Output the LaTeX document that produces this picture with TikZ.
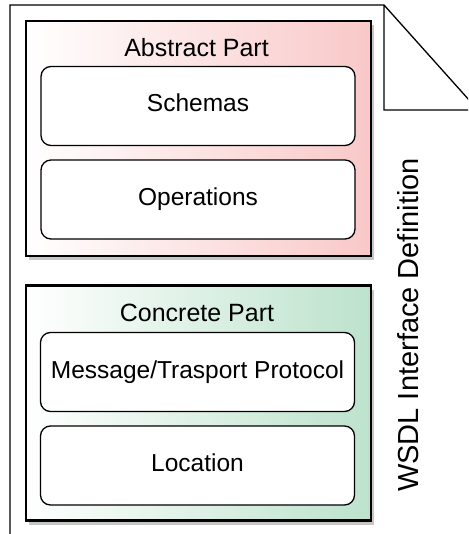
\documentclass[tikz,border=0pt]{standalone}
\usepackage{fontspec}
\setmainfont{Liberation Sans}
\usetikzlibrary{shadows}

\definecolor{abstractpink}{RGB}{249,200,200}
\definecolor{concretegreen}{RGB}{188,226,204}

\tikzset{
  partbox/.style={draw=black,line width=2.2pt,minimum width=345pt,minimum height=235pt,
    drop shadow={shadow xshift=3pt,shadow yshift=-4pt,opacity=0.45}},
  itembox/.style={draw=black,line width=1.3pt,rounded corners=10pt,fill=white,
    minimum width=314pt,minimum height=79pt,text height=17pt,text depth=5pt,
    font=\fontsize{24.5}{28}\selectfont},
  parttitle/.style={anchor=base,font=\fontsize{25}{30}\selectfont}
}

\begin{document}
\begin{tikzpicture}[x=1pt,y=-1pt]

\useasboundingbox (0,0) rectangle (468,534);
\clip (0,0) rectangle (468,534);

% page outline with the folded corner
\draw[line width=1.3pt,black]
(10,540)--(10,5)--(384,5)--(478,110)--(384,110)--(384,5);

\node[partbox,left color=white,right color=abstractpink]
(abstract)
at (198.5,138.5)
{};

\node[parttitle]
(abstracttitle)
at (196.5,57)
{Abstract Part};

\node[itembox]
(schemas)
at (198,106)
{Schemas};

\node[itembox]
(operations)
at (198,199.5)
{Operations};

\node[partbox,left color=white,right color=concretegreen]
(concrete)
at (198.5,403)
{};

\node[parttitle]
(concretetitle)
at (197,321)
{Concrete Part};

\node[itembox]
(protocol)
at (197.5,372)
{Message/Trasport Protocol};

\node[itembox]
(location)
at (197.5,465.5)
{Location};

\node[rotate=90,font=\fontsize{29}{34}\selectfont]
(wsdl)
at (408.5,325)
{WSDL Interface Definition};

\end{tikzpicture}
\end{document}
